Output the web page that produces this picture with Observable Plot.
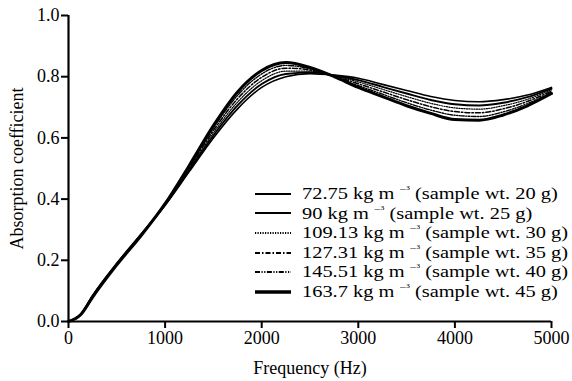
<!DOCTYPE html>
<html>
<head>
<meta charset="utf-8">
<script src="https://cdn.jsdelivr.net/npm/d3@7"></script>
<script src="https://cdn.jsdelivr.net/npm/@observablehq/plot@0.6"></script>
</head>
<body style="margin:0;padding:0;background:#fff;">
<div id="wrap" style="position:relative;width:572px;height:381px;font-family:'Liberation Serif';"></div>
<script>
// Frequencies (Hz)
const freq = [0, 125, 250, 500, 750, 1000, 1250, 1500, 1750, 2000, 2250, 2500, 2750, 3000, 3250, 3500, 3750, 4000, 4250, 4500, 4750, 5000];

// Absorption coefficient per sample density
const s72_75  = [0, 0.022, 0.085, 0.190, 0.285, 0.380, 0.490, 0.600, 0.695, 0.765, 0.800, 0.810, 0.805, 0.795, 0.775, 0.755, 0.735, 0.722, 0.718, 0.725, 0.740, 0.765];
const s90     = [0, 0.022, 0.084, 0.189, 0.284, 0.381, 0.494, 0.608, 0.706, 0.776, 0.809, 0.814, 0.804, 0.789, 0.767, 0.745, 0.724, 0.710, 0.706, 0.715, 0.733, 0.761];
const s109_13 = [0, 0.022, 0.083, 0.188, 0.283, 0.382, 0.498, 0.616, 0.717, 0.787, 0.818, 0.818, 0.803, 0.783, 0.759, 0.735, 0.713, 0.698, 0.694, 0.705, 0.726, 0.757];
const s127_31 = [0, 0.022, 0.082, 0.187, 0.282, 0.383, 0.502, 0.624, 0.728, 0.798, 0.828, 0.822, 0.802, 0.777, 0.751, 0.725, 0.702, 0.686, 0.682, 0.695, 0.719, 0.753];
const s145_51 = [0, 0.022, 0.081, 0.186, 0.281, 0.384, 0.506, 0.632, 0.739, 0.809, 0.837, 0.826, 0.801, 0.771, 0.743, 0.715, 0.691, 0.674, 0.670, 0.685, 0.712, 0.749];
const s163_7  = [0, 0.022, 0.080, 0.185, 0.280, 0.385, 0.510, 0.640, 0.750, 0.820, 0.846, 0.830, 0.800, 0.765, 0.735, 0.705, 0.680, 0.660, 0.658, 0.675, 0.705, 0.745];

const densities = ["72.75", "90", "109.13", "127.31", "145.51", "163.7"];
const weights = ["20", "25", "30", "35", "40", "45"];
const seriesValues = [s72_75, s90, s109_13, s127_31, s145_51, s163_7];

const xTicks = [0, 1000, 2000, 3000, 4000, 5000];
const yTicks = [0, 0.2, 0.4, 0.6, 0.8, 1.0];

const FONT = "Liberation Serif";

const styles = [
  {strokeWidth: 1.6, dash: null},
  {strokeWidth: 1.9, dash: null},
  {strokeWidth: 1.2, dash: "1.2,1.3"},
  {strokeWidth: 1.5, dash: "5,2,1.5,2"},
  {strokeWidth: 1.4, dash: "5,1.5,1.2,1.5,1.2,1.5"},
  {strokeWidth: 3.0, dash: null}
];

const rows = [];
seriesValues.forEach((vals, i) => {
  vals.forEach((v, j) => rows.push({series: i, f: freq[j], a: v}));
});

const lineMarks = seriesValues.map((vals, i) =>
  Plot.line(rows.filter(r => r.series === i), {
    x: "f", y: "a", stroke: "#000",
    strokeWidth: styles[i].strokeWidth,
    strokeDasharray: styles[i].dash || undefined,
    curve: "monotone-x"
  })
);

const chart = Plot.plot({
  width: 572,
  height: 381,
  marginLeft: 68,
  marginTop: 15,
  marginRight: 21,
  marginBottom: 60,
  style: {fontSize: "18px", color: "#000", background: "#fff"},
  x: {domain: [0, 5000]},
  y: {domain: [0, 1]},
  marks: [
    ...lineMarks.slice().reverse(),
    Plot.axisX({ticks: xTicks, tickSize: 7, tickPadding: 3, strokeWidth: 2, tickFormat: d3.format("d"),
      label: "Frequency (Hz)", labelAnchor: "center", labelArrow: "none", labelOffset: 52}),
    Plot.axisY({ticks: yTicks, tickSize: 7, tickPadding: 2, strokeWidth: 2, tickFormat: d3.format(".1f"),
      label: "Absorption coefficient", labelAnchor: "center", labelArrow: "none", labelOffset: 58}),
    Plot.ruleX([0], {strokeWidth: 2.2}),
    Plot.ruleY([0], {strokeWidth: 2.2})
  ]
});

chart.style.fontFamily = FONT;
chart.setAttribute("font-family", FONT);
chart.querySelectorAll("g, text").forEach(el => {
  el.setAttribute("font-family", FONT);
  el.style.fontFamily = FONT;
});

const wrap = document.getElementById("wrap");
wrap.appendChild(chart);

const legend = document.createElement("div");
legend.setAttribute("style", "position:absolute;left:255px;top:184px;font-family:'Liberation Serif';font-size:17px;line-height:19.6px;color:#000;");
densities.forEach((d, i) => {
  const row = document.createElement("div");
  row.setAttribute("style", "display:flex;align-items:center;white-space:nowrap;height:19.6px;font-family:'Liberation Serif';");
  const st = styles[i];
  row.innerHTML =
    `<svg viewBox="0 0 36 10" style="width:36px;height:10px;margin-right:11px;flex:none;"><line x1="0" y1="5" x2="36" y2="5" stroke="#000" stroke-width="${i === 5 ? 3.5 : 2.2}" ${st.dash ? `stroke-dasharray="${st.dash}"` : ""}/></svg>` +
    `<span style="font-family:'Liberation Serif';display:inline-block;transform:scaleX(1.2);transform-origin:0 50%;">${d} kg m <sup style="font-size:10px;vertical-align:6px;line-height:0;">\u2212\u00b3</sup> (sample wt. ${weights[i]} g)</span>`;
  legend.appendChild(row);
});
wrap.appendChild(legend);
</script>
</body>
</html>
